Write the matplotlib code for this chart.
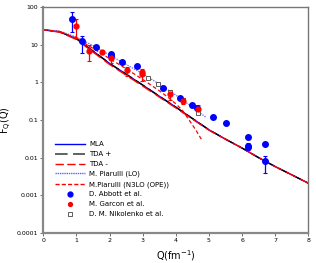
import matplotlib
matplotlib.use("Agg")
import matplotlib.pyplot as plt
from matplotlib.lines import Line2D
from matplotlib.ticker import FixedLocator, FixedFormatter, NullLocator

# ---- curves ----
q_curve = [0, 0.5, 1.0, 1.5, 2.0, 2.5, 3.0, 3.5, 4.0, 4.5, 5.0, 5.5, 6.0, 6.5, 7.0, 7.5, 8.0]
mla     = [25, 22, 14.5, 6.8, 3.2, 1.65, 0.85, 0.43, 0.22, 0.11, 0.055, 0.031, 0.018, 0.010, 0.0058, 0.0035, 0.0021]
tda_p   = [25, 22, 14.5, 6.8, 3.2, 1.65, 0.85, 0.43, 0.22, 0.11, 0.055, 0.031, 0.018, 0.010, 0.0058, 0.0035, 0.0021]
tda_m   = [25, 21.5, 13.8, 6.4, 3.0, 1.55, 0.80, 0.41, 0.21, 0.106, 0.054, 0.031, 0.018, 0.010, 0.0058, 0.0035, 0.0021]

q_lo  = [0, 0.5, 1.0, 1.5, 2.0, 2.5, 3.0, 3.5, 4.0, 4.5, 4.9]
pi_lo = [25, 23, 16, 9.5, 5.3, 3.0, 1.7, 0.9, 0.46, 0.22, 0.12]

q_n3  = [0, 0.5, 1.0, 1.5, 2.0, 2.5, 3.0, 3.5, 3.8, 4.0, 4.2, 4.4, 4.6, 4.8]
pi_n3 = [25, 22.5, 15, 8.0, 4.3, 2.3, 1.2, 0.6, 0.38, 0.27, 0.18, 0.10, 0.055, 0.028]

# ---- data ----
abbott_q   = [0.876, 1.17, 1.60, 2.05, 2.05, 2.39, 2.82, 3.60, 4.12, 4.49, 4.65, 5.12, 5.51, 6.19, 6.19, 6.19, 6.68, 6.68]
abbott_f   = [47, 12.6, 8.7, 5.7, 4.9, 3.5, 2.65, 0.70, 0.38, 0.245, 0.21, 0.118, 0.082, 0.035, 0.021, 0.0197, 0.023, 0.0082]
abbott_lo  = [25, 6.5, 0, 0, 0, 0, 0, 0, 0, 0, 0, 0, 0, 0, 0, 0.004, 0, 0.0042]
abbott_hi  = [25, 4.0, 0, 0, 0, 0, 0, 0, 0, 0, 0, 0, 0, 0, 0, 0.0055, 0, 0.0032]

garcon_q  = [1.00, 1.38, 1.76, 2.05, 2.52, 2.97, 2.97, 3.81, 4.23, 4.66]
garcon_f  = [32, 7.0, 6.3, 4.4, 2.1, 1.9, 1.67, 0.49, 0.33, 0.197]
garcon_lo = [17, 3.2, 0.6, 1.2, 0.6, 0, 0.55, 0.14, 0.06, 0.05]
garcon_hi = [15, 2.8, 0.6, 0.6, 0.5, 0, 0.6, 0.12, 0.06, 0.05]

nik_q = [3.17, 3.47, 3.83, 4.23, 4.68]
nik_f = [1.29, 0.89, 0.56, 0.35, 0.15]

x_ticks = [0, 1, 2, 3, 4, 5, 6, 7, 8]
y_ticks = [0.0001, 0.001, 0.01, 0.1, 1, 10, 100]
y_labels = ["0.0001", "0.001", "0.01", "0.1", "1", "10", "100"]

BLUE = "#0000ff"
RED = "#ff0000"

fig = plt.figure(figsize=(3.16, 2.63), dpi=100)
ax = fig.add_axes([0.137, 0.114, 0.839, 0.859])

h1, = ax.plot(q_curve, mla, color=BLUE, lw=1.0, label="MLA")
h2, = ax.plot(q_curve, tda_p, color="black", lw=1.0, ls=(0, (8, 3)), label="TDA +")
h3, = ax.plot(q_curve, tda_m, color=RED, lw=1.0, ls=(5, (8, 3)), label="TDA -")
h4, = ax.plot(q_lo, pi_lo, color="#6060ff", lw=0.9, ls=(0, (1, 1)), label="M. Piarulli (LO)")
h5, = ax.plot(q_n3, pi_n3, color=RED, lw=0.9, ls=(0, (3, 2)), label="M.Piarulli (N3LO (OPE))")

ax.errorbar(abbott_q, abbott_f, yerr=[abbott_lo, abbott_hi], fmt="o", color=BLUE,
            ms=4, elinewidth=0.9, capsize=1.5, capthick=0.8)
ax.errorbar(garcon_q, garcon_f, yerr=[garcon_lo, garcon_hi], fmt="o", color=RED,
            ms=3.5, elinewidth=0.9, capsize=1.5, capthick=0.8)
ax.plot(nik_q, nik_f, "s", mfc="white", mec="#444444", mew=0.6, ms=3.5, ls="none")

# legend handles (legend-only styling)
lh1 = Line2D([], [], color=BLUE, lw=1.0)
lh2 = Line2D([], [], color="#555555", lw=1.3, ls=(0, (7, 3)))
lh3 = Line2D([], [], color=RED, lw=1.0, ls=(0, (6, 2.5)))
lh4 = Line2D([], [], color="#6060ff", lw=1.0, ls=(0, (1, 0.6)))
lh5 = Line2D([], [], color=RED, lw=1.0, ls=(0, (3, 1.5)))
lh6 = Line2D([], [], color=BLUE, marker="o", ms=3.5, ls="none")
lh7 = Line2D([], [], color=RED, marker="o", ms=2.8, ls="none")
lh8 = Line2D([], [], marker="s", mfc="white", mec="#444444", mew=0.6, ms=3, ls="none")
labels = ["MLA", "TDA +", "TDA -", "M. Piarulli (LO)", "M.Piarulli (N3LO (OPE))",
          "D. Abbott et al.", "M. Garcon et al.", "D. M. Nikolenko et al."]

ax.set_yscale("log")
ax.set_xlim(0, 8)
ax.set_ylim(0.0001, 100)
ax.xaxis.set_major_locator(FixedLocator(x_ticks))
ax.yaxis.set_major_locator(FixedLocator(y_ticks))
ax.yaxis.set_major_formatter(FixedFormatter(y_labels))
ax.yaxis.set_minor_locator(NullLocator())
ax.tick_params(labelsize=4.5, length=2, width=0.6, color="#555555", pad=1.5)

for s in ["left", "bottom"]:
    ax.spines[s].set_color("#888888")
    ax.spines[s].set_linewidth(1.6)
for s in ["top", "right"]:
    ax.spines[s].set_color("#777777")
    ax.spines[s].set_linewidth(1.0)

ax.set_xlabel("Q(fm$^{-1}$)", fontsize=7, labelpad=4)
ax.set_ylabel("F$_{\\rm Q}$(Q)", fontsize=7, labelpad=2)

ax.legend([lh1, lh2, lh3, lh4, lh5, lh6, lh7, lh8], labels,
          loc="upper left", bbox_to_anchor=(0.044, 0.406), fontsize=5, frameon=False,
          handlelength=4.3, handletextpad=0.6, labelspacing=0.55, borderaxespad=0,
          borderpad=0)

fig.savefig("out.png", dpi=100)
